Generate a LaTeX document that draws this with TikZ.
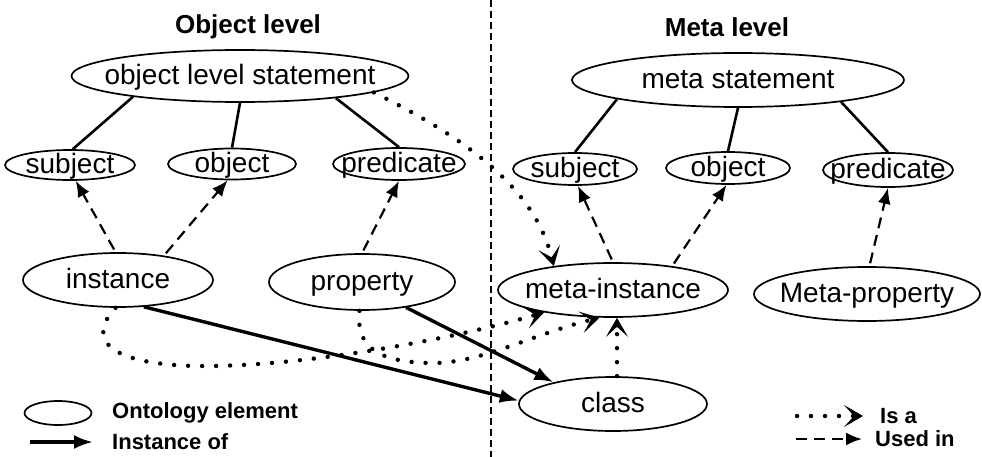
\documentclass[tikz,border=0pt]{standalone}
\usepackage{fontspec}
\setmainfont{Liberation Sans}
\usetikzlibrary{arrows.meta,shapes.geometric}
% centred label whose box does not enlarge the ellipse around it
\newcommand{\ct}[1]{\makebox[0pt]{\raisebox{-.3em}[0pt][0pt]{#1}}}
\begin{document}
\begin{tikzpicture}[x=1pt,y=-1pt,
  el/.style={draw, ellipse, inner sep=0pt, line width=1.7pt, font=\fontsize{28}{31}\selectfont},
  title/.style={font=\bfseries\fontsize{26}{30}\selectfont, inner sep=0pt},
  legend/.style={font=\bfseries\fontsize{22}{25}\selectfont, anchor=west, inner sep=0pt},
  part/.style={line width=2.6pt},
  usedin/.style={line width=2.2pt, dash pattern=on 11pt off 7pt, shorten <=3pt,
    -{Latex[length=16pt,width=13pt]}},
  isa/.style={line width=4.4pt, line cap=round, dash pattern=on 0pt off 14pt,
    -{Stealth[length=19pt,width=22pt,inset=10pt,line width=1.5pt]}},
  instof/.style={line width=3.4pt, -{Latex[length=19pt,width=14pt]}},
  divider/.style={line width=1.6pt, dash pattern=on 7pt off 4pt},
]
\useasboundingbox (0,0) rectangle (982,457);

% level separator
\coordinate (dtop) at (491,0);
\coordinate (dbot) at (491,457);
\draw[divider] (dtop) -- (dbot);

% titles
\node[title] (tobj) at (248,27) {Object level};
\node[title] (tmeta) at (727,27) {Meta level};

% object level
\node[el, minimum width=337pt, minimum height=52pt] (ols) at (240,76) {\ct{object level statement}};
\node[el, minimum width=130pt, minimum height=30pt] (s1) at (70,165) {\ct{subject}};
\node[el, minimum width=128pt, minimum height=31pt] (o1) at (232,164) {\ct{object}};
\node[el, minimum width=132pt, minimum height=32pt] (p1) at (399,164) {\ct{predicate}};
\node[el, minimum width=190pt, minimum height=54pt] (inst) at (118,280) {\ct{instance}};
\node[el, minimum width=186pt, minimum height=56pt] (prop) at (362,282) {\ct{property}};

% meta level
\node[el, minimum width=332pt, minimum height=54pt] (mst) at (738,80) {\ct{meta statement}};
\node[el, minimum width=124pt, minimum height=32pt] (ms) at (575,169) {\ct{subject}};
\node[el, minimum width=124pt, minimum height=32pt] (mo) at (728,168) {\ct{object}};
\node[el, minimum width=130pt, minimum height=34pt] (mpr) at (888,170) {\ct{predicate}};
\node[el, minimum width=230pt, minimum height=54pt] (mi) at (613,290) {\ct{meta-instance}};
\node[el, minimum width=226pt, minimum height=54pt] (mp) at (867,294) {\ct{Meta-property}};
\node[el, minimum width=188pt, minimum height=54pt] (cls) at (613,404) {\ct{class}};

% statement parts
\draw[part] (ols.191) -- (s1.80);
\draw[part] (ols.south) -- (o1.north);
\draw[part] (ols.-13) -- (p1.north);
\draw[part] (mst.189) -- (ms.north);
\draw[part] (mst.south) -- (mo.north);
\draw[part] (mst.-12) -- (mpr.north);

% used in
\draw[usedin] (inst.95) -- (s1.-70);
\draw[usedin] (inst.28) -- (o1.-105);
\draw[usedin] (prop.north) -- (p1.south);
\draw[usedin] (mi.north) -- (ms.-80);
\draw[usedin] (mi.22) -- (mo.-95);
\draw[usedin] (mp.85) -- (mpr.south);

% is a
\draw[isa] (ols.-7) .. controls (470,140) and (535,190) .. (mi.158);
\draw[isa] (inst.-95) .. controls (85,340) and (110,365) .. (200,366)
  .. controls (300,367) and (450,340) .. (mi.198);
\draw[isa] (prop.-95) .. controls (356,345) and (375,362) .. (430,363)
  .. controls (480,364) and (530,335) .. (mi.244);
\draw[isa] ([xshift=4pt]cls.north) -- ([xshift=4pt]mi.south);

% instance of
\draw[instof] (inst.-46) -- (cls.178);
\draw[instof] (prop.-30) -- (cls.160);

% legend
\node[el, minimum width=67pt, minimum height=24pt] (leg) at (58,413) {};
\node[legend] (legel) at (112,413) {Ontology element};
\coordinate (ia1) at (30,442);
\coordinate (ia2) at (93,442);
\draw[instof] (ia1) -- (ia2);
\node[legend] (legio) at (112,442) {Instance of};
\coordinate (isa1) at (797,416);
\coordinate (isa2) at (863,416);
\draw[isa] (isa1) -- (isa2);
\node[legend] (legisa) at (880,416) {Is a};
\coordinate (ui1) at (796,439);
\coordinate (ui2) at (862,439);
\draw[usedin, shorten <=0pt] (ui1) -- (ui2);
\node[legend] (legui) at (875,439) {Used in};
\end{tikzpicture}
\end{document}
